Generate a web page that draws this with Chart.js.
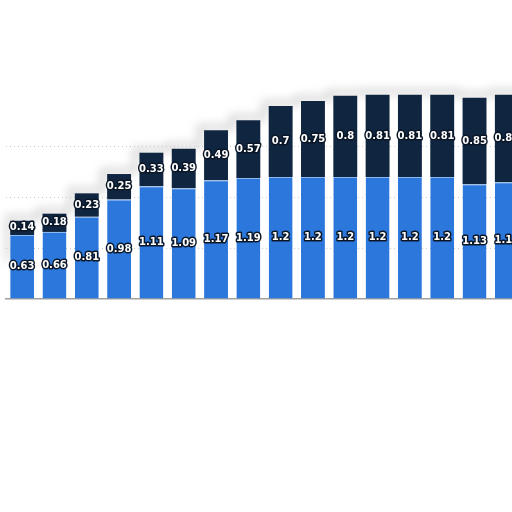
<!DOCTYPE html>
<html lang="en">
<head>
    <meta charset="UTF-8">
    <title>Stacked bars</title>
    <style>
        html, body { margin: 0; padding: 0; background: #fff; overflow: hidden; }
        #wrap { position: absolute; left: 0; top: 0; width: 530px; height: 512px; }
    </style>
</head>
<body>
<div id="wrap"><canvas id="chart"></canvas></div>

<script src="https://cdn.jsdelivr.net/npm/chart.js@4.4.0/dist/chart.umd.min.js"></script>
<script>
    // values (last bar is cut off at the right edge)
    const categories = ['1', '2', '3', '4', '5', '6', '7', '8', '9', '10', '11', '12', '13', '14', '15', '16'];
    const lowerValues = [0.63, 0.66, 0.81, 0.98, 1.11, 1.09, 1.17, 1.19, 1.2, 1.2, 1.2, 1.2, 1.2, 1.2, 1.13, 1.15];
    const upperValues = [0.14, 0.18, 0.23, 0.25, 0.33, 0.39, 0.49, 0.57, 0.7, 0.75, 0.8, 0.81, 0.81, 0.81, 0.85, 0.86];

    const BLUE = '#2b77dc';
    const NAVY = '#10253f';

    // soft grey halo above the bar tops only (silhouette stops at the tops)
    const barShadow = {
        id: 'barShadow',
        beforeDraw(chart) {
            const ctx = chart.ctx;
            const meta = chart.getDatasetMeta(1).data;
            const half = chart.scales.x.width / categories.length / 2;
            ctx.save();
            ctx.lineJoin = 'round';
            ctx.strokeStyle = 'rgba(0,0,0,0.16)';
            ctx.filter = 'blur(5px)';
            ctx.lineWidth = 6;
            ctx.beginPath();
            meta.forEach((el, i) => {
                const p = el.getProps(['x', 'y', 'width'], true);
                if (i === 0) ctx.moveTo(p.x - p.width / 2 - 2, p.y + 40);
                ctx.lineTo(i === 0 ? p.x - p.width / 2 - 2 : p.x - half, p.y - 3);
                ctx.lineTo(p.x + half, p.y - 3);
            });
            ctx.stroke();
            ctx.restore();
        }
    };

    // value labels in the middle of each segment
    const segmentLabels = {
        id: 'segmentLabels',
        afterDatasetsDraw(chart) {
            const ctx = chart.ctx;
            ctx.save();
            ctx.font = 'bold 10px "DejaVu Sans"';
            ctx.textAlign = 'center';
            ctx.textBaseline = 'middle';
            ctx.lineJoin = 'round';
            ctx.lineWidth = 3;
            ctx.strokeStyle = '#0b1626';
            ctx.fillStyle = '#ffffff';
            chart.data.datasets.forEach((ds, i) => {
                chart.getDatasetMeta(i).data.forEach((el, j) => {
                    const p = el.getProps(['x', 'y', 'base'], true);
                    const cy = (p.y + p.base) / 2;
                    const txt = String(ds.data[j]);
                    ctx.strokeText(txt, p.x, cy);
                    ctx.fillText(txt, p.x, cy);
                });
            });
            ctx.restore();
        }
    };

    new Chart(document.getElementById('chart'), {
        type: 'bar',
        data: {
            labels: categories,
            datasets: [{
                data: lowerValues,
                backgroundColor: BLUE,
                borderColor: '#8cb8f0',
                borderWidth: { top: 1, left: 0, right: 0, bottom: 0 },
                borderSkipped: false
            }, {
                data: upperValues,
                backgroundColor: NAVY,
                borderWidth: 0
            }]
        },
        options: {
            responsive: true,
            maintainAspectRatio: false,
            animation: false,
            layout: { padding: { left: 6, right: 7, top: 45, bottom: 205 } },
            datasets: { bar: { categoryPercentage: 1, barPercentage: 0.74 } },
            plugins: { legend: { display: false }, tooltip: { enabled: false } },
            scales: {
                x: {
                    stacked: true,
                    ticks: { display: false },
                    grid: { display: false },
                    border: { display: true, color: '#a0a0a0', width: 1.5 }
                },
                y: {
                    stacked: true,
                    min: 0,
                    max: 2.5,
                    ticks: { display: false, stepSize: 0.5 },
                    border: { display: false, dash: [1, 3] },
                    grid: {
                        color: c => (c.tick && c.tick.value > 0 && c.tick.value <= 1.5) ? '#c8c8c8' : 'rgba(0,0,0,0)',
                        drawTicks: false,
                        lineWidth: 1
                    }
                }
            }
        },
        plugins: [barShadow, segmentLabels]
    });
</script>
</body>
</html>
